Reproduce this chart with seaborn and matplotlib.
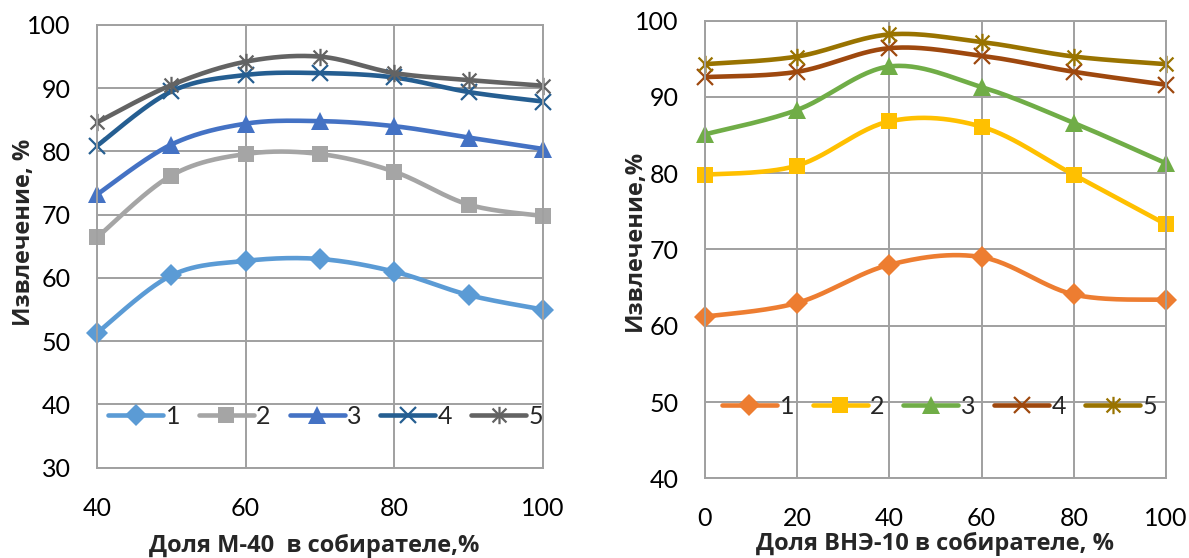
import numpy as np
import pandas as pd
import matplotlib
matplotlib.use("Agg")
import matplotlib.pyplot as plt
from matplotlib.lines import Line2D
from matplotlib.path import Path
import seaborn as sns

# ---- data -------------------------------------------------------------
m40_share = [40, 50, 60, 70, 80, 90, 100]
m40_1 = [51.3, 60.4, 62.7, 63.0, 61.0, 57.3, 55.0]
m40_2 = [66.4, 76.2, 79.6, 79.6, 76.8, 71.6, 69.8]
m40_3 = [73.2, 81.1, 84.4, 84.8, 84.0, 82.2, 80.4]
m40_4 = [80.9, 89.5, 92.1, 92.4, 91.7, 89.4, 87.9]
m40_5 = [84.6, 90.5, 94.2, 95.0, 92.4, 91.3, 90.4]

vne_share = [0, 20, 40, 60, 80, 100]
vne_1 = [61.2, 63.0, 68.0, 69.0, 64.1, 63.4]
vne_2 = [79.8, 81.0, 86.8, 86.1, 79.8, 73.3]
vne_3 = [85.1, 88.3, 94.0, 91.3, 86.6, 81.3]
vne_4 = [92.6, 93.3, 96.4, 95.4, 93.3, 91.6]
vne_5 = [94.3, 95.3, 98.2, 97.2, 95.3, 94.3]

series_names = ["1", "2", "3", "4", "5"]
left_colors = ["#5B9BD5", "#A5A5A5", "#4472C4", "#255E91", "#636363"]
right_colors = ["#ED7D31", "#FFC000", "#70AD47", "#9E480E", "#997300"]

# ---- style ------------------------------------------------------------
sns.set_theme(style="white")
plt.rcParams["font.family"] = ["Lato", "Open Sans", "DejaVu Sans"]
TICK_FS = 18
LABEL_FS = 17
LABEL_FONT = ["Open Sans", "DejaVu Sans"]
GRID_C = "#A0A0A0"

# six-armed asterisk marker (X with a vertical bar)
star_path = Path(
    [(-1, -1), (1, 1), (-1, 1), (1, -1), (0, -1.25), (0, 1.25)],
    [Path.MOVETO, Path.LINETO, Path.MOVETO, Path.LINETO, Path.MOVETO, Path.LINETO],
)
markers = [
    dict(marker="D", markersize=11, mew=0),
    dict(marker="s", markersize=12, mew=0),
    dict(marker="^", markersize=12.5, mew=0),
    dict(marker="x", markersize=11.5, mew=1.6),
    dict(marker=star_path, markersize=12.5, mew=1.6),
]


def smooth_curve(x, y, n=30):
    """Cardinal (Catmull-Rom) Bezier through the points, like office 'smoothed line'."""
    p = np.column_stack([x, y]).astype(float)
    ext = np.vstack([p[0], p, p[-1]])
    out = [p[:1]]
    t = np.linspace(0, 1, n)[1:, None]
    for i in range(len(p) - 1):
        p0, p3 = ext[i + 1], ext[i + 2]
        c1 = p0 + (ext[i + 2] - ext[i]) / 6.0
        c2 = p3 - (ext[i + 3] - ext[i + 1]) / 6.0
        seg = ((1 - t) ** 3) * p0 + 3 * ((1 - t) ** 2) * t * c1 + 3 * (1 - t) * t ** 2 * c2 + t ** 3 * p3
        out.append(seg)
    c = np.vstack(out)
    return c[:, 0], c[:, 1]


def draw_panel(ax, xs, ys_list, colors, xlim, ylim, xticks, yticks, legend_y, legend_x):
    for name, ys, col, mk in zip(series_names, ys_list, colors, markers):
        sx, sy = smooth_curve(xs, ys)
        curve = pd.DataFrame({"x": sx, "y": sy})
        pts = pd.DataFrame({"x": xs, "y": ys})
        sns.lineplot(data=curve, x="x", y="y", ax=ax, color=col, lw=3.3,
                     sort=False, estimator=None, solid_capstyle="round", clip_on=False)
        sns.lineplot(data=pts, x="x", y="y", ax=ax, color=col, linestyle="none",
                     sort=False, estimator=None, markeredgecolor=col,
                     markerfacecolor=col, clip_on=False, **mk)
    ax.set_xlim(*xlim)
    ax.set_ylim(*ylim)
    ax.set_xticks(xticks)
    ax.set_yticks(yticks)
    ax.set_xlabel("")
    ax.set_ylabel("")
    ax.grid(True, color=GRID_C, lw=1.4)
    for s in ax.spines.values():
        s.set_visible(True)
        s.set_color(GRID_C)
        s.set_linewidth(1.4)
    ax.tick_params(axis="both", length=0, labelsize=TICK_FS, colors="black")
    ax.tick_params(axis="y", pad=19)
    ax.tick_params(axis="x", pad=21)
    handles = [
        Line2D([0], [0], color=col, lw=3.3, markeredgecolor=col, markerfacecolor=col,
               solid_capstyle="round", **mk)
        for col, mk in zip(colors, markers)
    ]
    ax.legend(handles, series_names, loc="center left", bbox_to_anchor=(legend_x, legend_y),
              ncol=5, frameon=False, fontsize=TICK_FS, handlelength=2.2,
              handletextpad=0.1, columnspacing=0.75, borderaxespad=0, borderpad=0)


fig = plt.figure(figsize=(11.89, 5.58), dpi=100)
W, H = 1189.0, 558.0

ax_l = fig.add_axes([97 / W, 1 - 467.7 / H, 446 / W, 442.7 / H])
ax_r = fig.add_axes([705 / W, 1 - 478.3 / H, 461 / W, 457.6 / H])

draw_panel(ax_l, m40_share, [m40_1, m40_2, m40_3, m40_4, m40_5], left_colors,
           (40, 100), (30, 100), [40, 60, 80, 100], list(range(30, 101, 10)),
           legend_y=(467.7 - 416.7) / 442.7, legend_x=(108 - 97) / 446)
draw_panel(ax_r, vne_share, [vne_1, vne_2, vne_3, vne_4, vne_5], right_colors,
           (0, 100), (40, 100), list(range(0, 101, 20)), list(range(40, 101, 10)),
           legend_y=(478.3 - 406.7) / 457.6, legend_x=(722 - 705) / 461)

fig.text(314 / W, 1 - 546 / H, "Доля М-40  в собирателе,%", ha="center", va="center",
         fontsize=LABEL_FS, fontweight="bold", family=LABEL_FONT)
fig.text(935 / W, 1 - 544 / H, "Доля ВНЭ-10 в собирателе, %", ha="center", va="center",
         fontsize=LABEL_FS, fontweight="bold", family=LABEL_FONT)
fig.text(24 / W, 1 - 232 / H, "Извлечение, %", ha="center", va="center", rotation=90,
         fontsize=LABEL_FS, fontweight="bold", family=LABEL_FONT)
fig.text(635 / W, 1 - 240 / H, "Извлечение,%", ha="center", va="center", rotation=90,
         fontsize=LABEL_FS, fontweight="bold", family=LABEL_FONT)

fig.savefig("out.png", dpi=100, facecolor="white")
